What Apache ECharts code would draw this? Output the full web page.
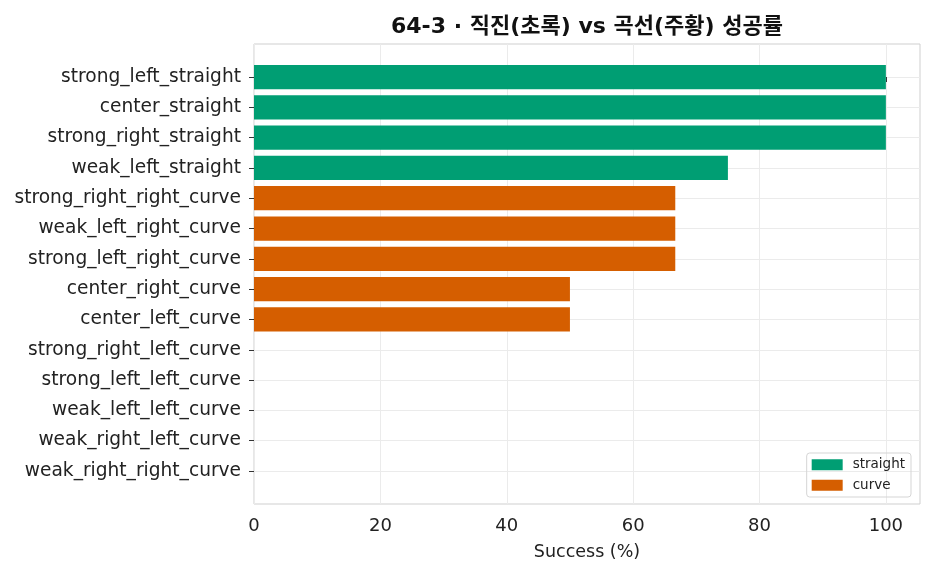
<!DOCTYPE html>
<html>
<head>
<meta charset="utf-8">
<script src="https://cdn.jsdelivr.net/npm/echarts@6/dist/echarts.min.js"></script>
<style>
html,body{margin:0;padding:0;background:#fff;}
#main{width:931px;height:575px;}
</style>
</head>
<body>
<div id="main"></div>
<script>
// 카테고리 (위에서 아래 순서)
var categories = ['strong_left_straight','center_straight','strong_right_straight','weak_left_straight',
    'strong_right_right_curve','weak_left_right_curve','strong_left_right_curve','center_right_curve',
    'center_left_curve','strong_right_left_curve','strong_left_left_curve','weak_left_left_curve',
    'weak_right_left_curve','weak_right_right_curve'];
var successRate = [100, 100, 100, 75, 66.67, 66.67, 66.67, 50, 50, 0, 0, 0, 0, 0];
var groups = ['straight','straight','straight','straight','curve','curve','curve','curve','curve',
    'curve','curve','curve','curve','curve'];
var xTicks = [0, 20, 40, 60, 80, 100];
var colors = { straight: '#009E73', curve: '#D55E00' };

var FONT = '"DejaVu Sans", "Noto Sans CJK KR", sans-serif';
var yTicks = categories.map(function(c, i){ return i; });

function groupData(g){
    var out = [];
    for(var i = 0; i < categories.length; i++){
        if(groups[i] == g) out.push([successRate[i], i]);
    }
    return out;
}

function renderBar(params, api){
    var v = api.value(0), idx = api.value(1);
    var p0 = api.coord([0, idx - 0.4]);
    var p1 = api.coord([v, idx + 0.4]);
    return {
        type: 'rect',
        shape: { x: p0[0], y: Math.min(p0[1], p1[1]), width: p1[0] - p0[0], height: Math.abs(p1[1] - p0[1]) },
        style: { fill: api.visual('color') }
    };
}

var chart = echarts.init(document.getElementById('main'));
chart.setOption({
    animation: false,
    title: {
        text: '64-3 · 직진(초록) vs 곡선(주황) 성공률',
        left: 582, top: 11, textAlign: 'center',
        textStyle: { fontFamily: FONT, fontSize: 22, fontWeight: 'bold', color: '#111' }
    },
    grid: { left: 254, right: 11, top: 44, bottom: 71, show: true, borderColor: '#cfcfcf', borderWidth: 1 },
    legend: {
        orient: 'vertical', right: 20, bottom: 78,
        itemWidth: 31, itemHeight: 11, itemGap: 7,
        padding: [5, 6, 5, 5],
        borderColor: '#d5d5d5', borderWidth: 1, borderRadius: 3,
        icon: 'rect',
        textStyle: { fontFamily: FONT, fontSize: 13.5, color: '#222', padding: [0, 0, 0, 5] },
        data: ['straight', 'curve']
    },
    xAxis: {
        type: 'value', min: 0, max: 105.4,
        name: 'Success (%)', nameLocation: 'middle', nameGap: 40,
        nameTextStyle: { fontFamily: FONT, fontSize: 17.5, color: '#222' },
        axisLine: { show: false },
        axisTick: { show: true, length: 5, customValues: xTicks, lineStyle: { color: '#333' } },
        axisLabel: { customValues: xTicks, fontFamily: FONT, fontSize: 18, color: '#222', margin: 13 },
        splitLine: { show: true, lineStyle: { color: '#ebebeb' } }
    },
    yAxis: {
        type: 'value', inverse: true, min: -1.09, max: 14.09,
        axisLine: { show: false },
        axisTick: { show: true, length: 5, customValues: yTicks, lineStyle: { color: '#333' } },
        axisLabel: {
            customValues: yTicks, fontFamily: FONT, fontSize: 18.6, color: '#222', margin: 13,
            formatter: function(v){ return categories[v] || ''; }
        },
        splitLine: { show: true, lineStyle: { color: '#ebebeb' } }
    },
    series: [
        { name: 'straight', type: 'custom', color: colors.straight, renderItem: renderBar, silent: true,
          encode: { x: 0, y: 1 }, data: groupData('straight') },
        { name: 'curve', type: 'custom', color: colors.curve, renderItem: renderBar, silent: true,
          encode: { x: 0, y: 1 }, data: groupData('curve') }
    ]
});
</script>
</body>
</html>
